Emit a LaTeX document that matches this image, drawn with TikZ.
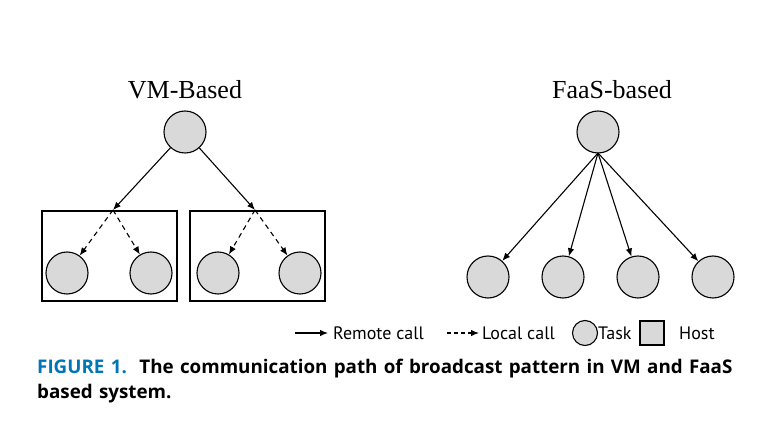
\documentclass[tikz,border=0pt]{standalone}
\usepackage{fontspec}
\setmainfont{Liberation Serif}
\newfontfamily\capfont{Open Sans}
\newfontfamily\legfont{PT Sans}
\usetikzlibrary{arrows.meta}
\definecolor{cgray}{RGB}{217,217,217}
\definecolor{figblue}{RGB}{0,118,182}
\begin{document}
\begin{tikzpicture}[x=1pt,y=-1pt,
  task/.style={circle,draw,fill=cgray,minimum size=42pt,inner sep=0pt,line width=1.1pt},
  host/.style={draw,line width=1.1pt},
  rc/.style={-{Latex[length=8pt,width=6.5pt]},line width=1.1pt},
  lc/.style={rc,dash pattern=on 5pt off 4pt},
  leg/.style={font=\legfont\fontsize{18}{20}\selectfont,anchor=west,inner sep=0pt}]
\useasboundingbox (0,0) rectangle (774,438);
\node[font=\fontsize{26}{28}\selectfont] (t1) at (185,90) {VM-Based};
\node[font=\fontsize{26}{28}\selectfont] (t2) at (612,90) {FaaS-based};
\node[host,minimum width=135pt,minimum height=90pt] (h1) at (109.5,256) {};
\node[host,minimum width=135pt,minimum height=90pt] (h2) at (257.5,256) {};
\node[task] (r1) at (185,132) {};
\coordinate (j1) at (113,210);
\coordinate (j2) at (255,210);
\node[task] (a) at (67,273) {};
\node[task] (b) at (151,273) {};
\node[task] (c) at (218,273) {};
\node[task] (d) at (300,273) {};
\draw[rc] (r1) -- (j1);
\draw[rc] (r1) -- (j2);
\draw[lc] (j1) -- (a);
\draw[lc] (j1) -- (b);
\draw[lc] (j2) -- (c);
\draw[lc] (j2) -- (d);
\node[task] (r2) at (598,132) {};
\coordinate (s) at (598,153);
\foreach \n/\x in {e/488,f/563,g/638,h/713}{
  \node[task] (\n) at (\x,277) {};
  \draw[rc] (s) -- (\n);
}
% legend
\coordinate (l1a) at (295,333); \coordinate (l1b) at (328,333);
\draw[rc] (l1a) -- (l1b);
\node[leg] (lt1) at (333,333) {Remote call};
\coordinate (l2a) at (447,333); \coordinate (l2b) at (479,333);
\draw[rc,dash pattern=on 4pt off 3pt] (l2a) -- (l2b);
\node[leg] (lt2) at (482,333) {Local call};
\node[circle,draw,fill=cgray,minimum size=25pt,inner sep=0pt,line width=1.1pt] (lc) at (585,333) {};
\node[leg] (lt3) at (598,333) {Task};
\node[draw,fill=cgray,minimum size=24pt,inner sep=0pt,line width=1.1pt] (lh) at (652,333) {};
\node[leg] (lt4) at (679,333) {Host};
\node[anchor=west,inner sep=0pt,font=\capfont\bfseries\fontsize{18.8}{25}\selectfont,align=left,text width=740pt] (cap) at (37,381)
 {\textcolor{figblue}{FIGURE 1.}\ \ The communication path of broadcast pattern in VM and FaaS\\based system.};
\end{tikzpicture}
\end{document}
